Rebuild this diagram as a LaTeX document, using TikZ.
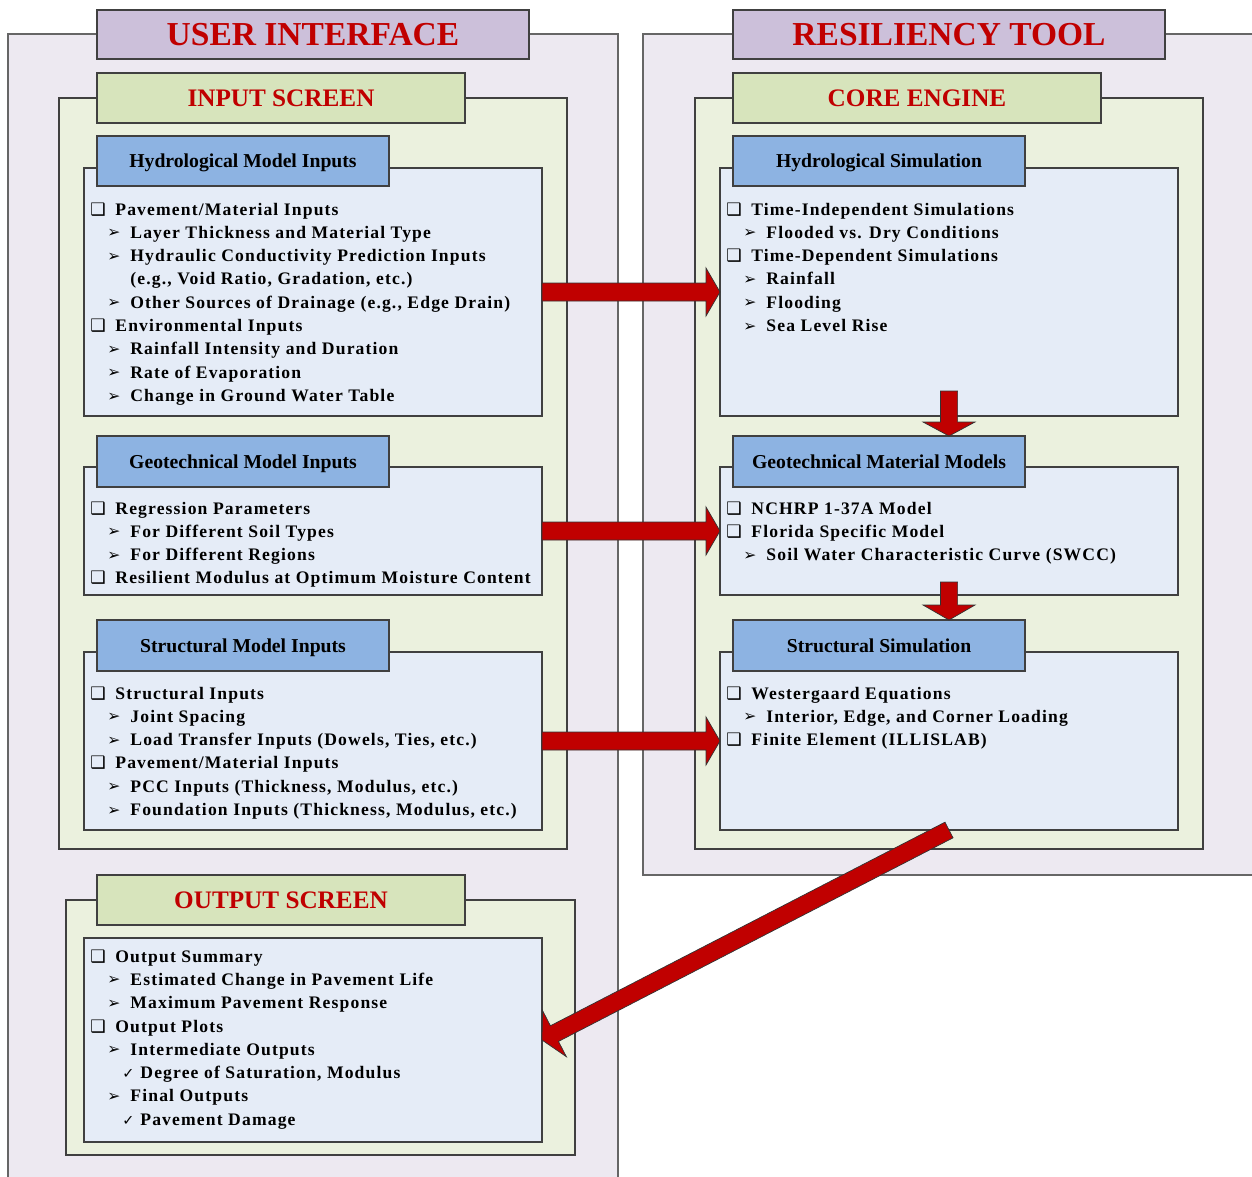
\documentclass[tikz,border=0pt]{standalone}
\usepackage{fontspec}
\setmainfont{Liberation Serif}
\newfontfamily\bodyf[LetterSpace=6.5]{Liberation Serif}
\newfontfamily\dvs{DejaVu Sans}
\usetikzlibrary{calc}
\definecolor{lav}{HTML}{EDE9F1}
\definecolor{purp}{HTML}{CCC0DA}
\definecolor{grnpanel}{HTML}{EBF1DE}
\definecolor{grnbox}{HTML}{D7E4BC}
\definecolor{hdrblue}{HTML}{8DB3E2}
\definecolor{bodyblue}{HTML}{E5ECF7}
\definecolor{myred}{HTML}{C00000}
\definecolor{edge}{HTML}{404040}
\tikzset{
  boxbase/.style={draw=edge, line width=0.55pt, inner sep=0pt, outer sep=0pt},
  lavpanel/.style={boxbase, fill=lav, draw=black!60},
  purptitle/.style={boxbase, fill=purp, text=myred, font=\bfseries\fontsize{16.75}{18}\selectfont, text height=11.1pt, text depth=0pt},
  grnpanelst/.style={boxbase, fill=grnpanel},
  grntitle/.style={boxbase, fill=grnbox, text=myred, font=\bfseries\fontsize{12.6}{14}\selectfont, text height=8.35pt, text depth=0pt},
  hdr/.style={boxbase, fill=hdrblue, font=\bfseries\fontsize{9.85}{11}\selectfont, text height=6.52pt, text depth=0pt},
  bodybox/.style={boxbase, fill=bodyblue},
  itm/.style={inner sep=0pt, anchor=base west, font=\bodyf\bfseries\fontsize{8.8}{10}\selectfont},
  bigarrow/.style={fill=myred, draw=black!80, line width=0.35pt, line join=miter}
}
\newcommand\bx[7]{\node[#6, minimum width={(#4-#2)*0.5pt}, minimum height={(#5-#3)*0.5pt}] (#1) at ({(#2+#4)/2},{(#3+#5)/2}) {#7};}
\newcommand\bulA{\llap{\makebox[12.5pt][l]{\dvs\fontsize{8.6}{9}\selectfont ❑}}}
\newcommand\bulB{\llap{\makebox[11.5pt][l]{\dvs\fontsize{7.8}{9}\selectfont\raisebox{0.2pt}{➢}}}}
\newcommand\bulC{\llap{\makebox[9pt][l]{\dvs\fontsize{7.2}{9}\selectfont ✓}}}
\def\ystart{47}
\newcommand\itm[5]{\node[itm] (#1) at ($(#2.north west)+({#3},{\ystart+#4*23.33})$) {#5};}
\newcommand\itA[4]{\itm{#1}{#2}{31}{#3}{\bulA#4}}
\newcommand\itB[4]{\itm{#1}{#2}{46}{#3}{\bulB#4}}
\newcommand\itC[4]{\itm{#1}{#2}{56}{#3}{\bulC#4}}
\newcommand\fatarrow[5]{%
  \path (#1) coordinate (fa-s) (#2) coordinate (fa-e);
  \path ($(fa-e)!#5!(fa-s)$) coordinate (fa-b);
  \draw[bigarrow] ($(fa-s)!#3!90:(fa-e)$) -- ($(fa-b)!#3!90:(fa-e)$) -- ($(fa-b)!#4!90:(fa-e)$) -- (fa-e)
    -- ($(fa-b)!#4!-90:(fa-e)$) -- ($(fa-b)!#3!-90:(fa-e)$) -- ($(fa-s)!#3!-90:(fa-e)$) -- cycle;
}
\begin{document}
\begin{tikzpicture}[x=0.5pt,y=-0.5pt]
\clip (0,0) rectangle (1252,1177);
\fill[white] (0,0) rectangle (1252,1177);
% ---------- left: user interface ----------
\bx{ui}{8}{34}{618}{1200}{lavpanel}{}
\bx{uititle}{97}{10}{529}{59}{purptitle}{USER INTERFACE}
\bx{inp}{59}{98}{567}{849}{grnpanelst}{}
\bx{inptitle}{97}{73}{465}{123}{grntitle}{INPUT SCREEN}
\bx{hydin}{84}{168}{542}{416}{bodybox}{}
\bx{hydinh}{97}{136}{389}{186}{hdr}{Hydrological Model Inputs}
\bx{geoin}{84}{467}{542}{595}{bodybox}{}
\bx{geoinh}{97}{436}{389}{487}{hdr}{Geotechnical Model Inputs}
\bx{strin}{84}{652}{542}{830}{bodybox}{}
\bx{strinh}{97}{620}{389}{671}{hdr}{Structural Model Inputs}
\bx{outp}{66}{900}{575}{1155}{grnpanelst}{}
\bx{outtitle}{97}{875}{465}{925}{grntitle}{OUTPUT SCREEN}
\bx{outbody}{84}{938}{542}{1142}{bodybox}{}
% ---------- right: resiliency tool ----------
\bx{rt}{643}{34}{1270}{875}{lavpanel}{}
\bx{rttitle}{733}{10}{1165}{59}{purptitle}{RESILIENCY TOOL}
\bx{core}{695}{98}{1203}{849}{grnpanelst}{}
\bx{coretitle}{733}{73}{1101}{123}{grntitle}{CORE ENGINE}
\bx{hydsim}{720}{168}{1178}{416}{bodybox}{}
\bx{hydsimh}{733}{136}{1025}{186}{hdr}{Hydrological Simulation}
\bx{geosim}{720}{467}{1178}{595}{bodybox}{}
\bx{geosimh}{733}{436}{1025}{487}{hdr}{Geotechnical Material Models}
\bx{strsim}{720}{652}{1178}{830}{bodybox}{}
\bx{strsimh}{733}{620}{1025}{671}{hdr}{Structural Simulation}
% ---------- items ----------
\itA{hi1}{hydin}{0}{Pavement/Material Inputs}
\itB{hi2}{hydin}{1}{Layer Thickness and Material Type}
\itB{hi3}{hydin}{2}{Hydraulic Conductivity Prediction Inputs}
\itm{hi4}{hydin}{46}{3}{(e.g., Void Ratio, Gradation, etc.)}
\itB{hi5}{hydin}{4}{Other Sources of Drainage (e.g., Edge Drain)}
\itA{hi6}{hydin}{5}{Environmental Inputs}
\itB{hi7}{hydin}{6}{Rainfall Intensity and Duration}
\itB{hi8}{hydin}{7}{Rate of Evaporation}
\itB{hi9}{hydin}{8}{Change in Ground Water Table}
\itA{gi1}{geoin}{0}{Regression Parameters}
\itB{gi2}{geoin}{1}{For Different Soil Types}
\itB{gi3}{geoin}{2}{For Different Regions}
\itA{gi4}{geoin}{3}{Resilient Modulus at Optimum Moisture Content}
\itA{si1}{strin}{0}{Structural Inputs}
\itB{si2}{strin}{1}{Joint Spacing}
\itB{si3}{strin}{2}{Load Transfer Inputs (Dowels, Ties, etc.)}
\itA{si4}{strin}{3}{Pavement/Material Inputs}
\itB{si5}{strin}{4}{PCC Inputs (Thickness, Modulus, etc.)}
\itB{si6}{strin}{5}{Foundation Inputs (Thickness, Modulus, etc.)}
\itA{hs1}{hydsim}{0}{Time-Independent Simulations}
\itB{hs2}{hydsim}{1}{Flooded vs. Dry Conditions}
\itA{hs3}{hydsim}{2}{Time-Dependent Simulations}
\itB{hs4}{hydsim}{3}{Rainfall}
\itB{hs5}{hydsim}{4}{Flooding}
\itB{hs6}{hydsim}{5}{Sea Level Rise}
\itA{gs1}{geosim}{0}{NCHRP 1-37A Model}
\itA{gs2}{geosim}{1}{Florida Specific Model}
\itB{gs3}{geosim}{2}{Soil Water Characteristic Curve (SWCC)}
\itA{ss1}{strsim}{0}{Westergaard Equations}
\itB{ss2}{strsim}{1}{Interior, Edge, and Corner Loading}
\itA{ss3}{strsim}{2}{Finite Element (ILLISLAB)}
\def\ystart{24}
\itA{o1}{outbody}{0}{Output Summary}
\itB{o2}{outbody}{1}{Estimated Change in Pavement Life}
\itB{o3}{outbody}{2}{Maximum Pavement Response}
\itA{o4}{outbody}{3}{Output Plots}
\itB{o5}{outbody}{4}{Intermediate Outputs}
\itC{o6}{outbody}{5}{Degree of Saturation, Modulus}
\itB{o7}{outbody}{6}{Final Outputs}
\itC{o8}{outbody}{7}{Pavement Damage}
% ---------- arrows ----------
\fatarrow{hydin.east}{hydsim.west}{4.5pt}{12pt}{7pt}
\fatarrow{geoin.east}{geosim.west}{4.5pt}{12pt}{7pt}
\fatarrow{strin.east}{strsim.west}{4.5pt}{12pt}{7pt}
\fatarrow{$(hydsim.south)+(0,-25)$}{hydsim.south |- geosimh.north}{4.3pt}{13pt}{7pt}
\fatarrow{$(geosim.south)+(0,-13)$}{geosim.south |- strsimh.north}{4.3pt}{13pt}{7.5pt}
\fatarrow{strsim.south}{outbody.east}{4.4pt}{13pt}{7pt}
\end{tikzpicture}
\end{document}
